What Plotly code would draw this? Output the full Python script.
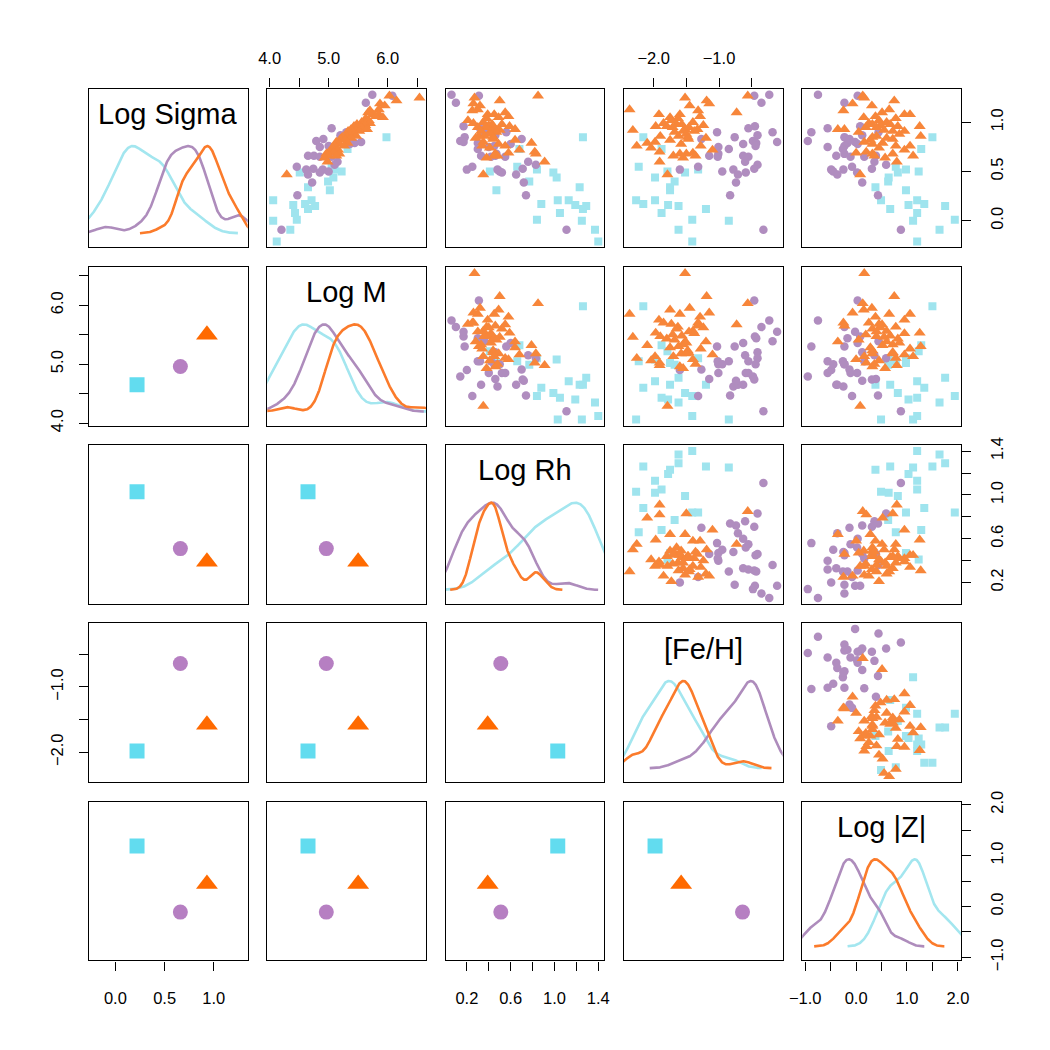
import numpy as np
import plotly.graph_objects as go

VAR_NAMES = ["Log Sigma", "Log M", "Log Rh", "[Fe/H]", "Log |Z|"]

# ---------------- data: group 1 (cyan squares) ----------------
cyan_sigma = [0.85, 0.73, 0.55, 0.52, 0.50, 0.49, 0.44, 0.40, 0.34, 0.31, 0.21,
              0.21, 0.17, 0.16, 0.15, 0.12, 0.08, 0.01, 0.00, -0.09, -0.21]
cyan_m = [5.98, 5.32, 5.05, 5.10, 5.22, 4.51, 5.08, 4.99, 4.65, 5.02, 4.06,
          4.71, 4.60, 4.40, 4.77, 4.65, 4.43, 4.46, 4.06, 4.35, 4.12]
cyan_rh = [1.26, 0.68, 0.66, 0.84, 0.41, 0.99, 1.02, 0.77, 1.23, 0.47, 1.03,
           1.13, 0.88, 1.19, 1.29, 1.26, 1.05, 0.84, 1.25, 1.37, 1.40]
cyan_feh = [-2.16, -1.88, -2.23, -1.32, -1.79, -1.52, -1.98, -1.68, -1.75, -1.75, -2.27,
            -1.98, -2.16, -1.78, -1.62, -1.20, -1.88, -1.41, -0.85, -1.62, -1.41]
cyan_z = [1.50, 1.28, 0.78, 0.98, 1.23, 0.82, 0.64, 0.63, 0.38, 0.98, 0.49,
          1.20, 1.34, 1.03, 1.75, 0.67, 1.20, 1.94, 1.12, 1.64, 1.20]

# ---------------- data: group 2 (purple circles) ----------------
purple_sigma = [1.28, 1.27, 1.20, 0.96, 0.94, 0.90, 0.90, 0.87, 0.85, 0.83,
                0.81, 0.80, 0.79, 0.78, 0.76, 0.75, 0.73, 0.68, 0.66, 0.66,
                0.65, 0.65, 0.60, 0.57, 0.55, 0.53, 0.52, 0.52, 0.50, 0.49,
                0.47, 0.39, 0.26, -0.09]
purple_m = [5.74, 6.08, 5.63, 5.47, 5.05, 5.39, 5.30, 5.20, 5.30, 4.91,
            4.79, 5.55, 5.44, 5.36, 5.00, 4.85, 5.05, 5.00, 4.75, 4.65,
            4.85, 5.05, 5.15, 5.10, 4.46, 4.74, 4.62, 4.90, 5.00, 4.85,
            4.65, 4.72, 4.47, 4.20]
purple_rh = [0.06, 0.31, 0.10, 0.17, 0.32, 0.36, 0.56, 0.46, 0.18, 0.70,
             0.14, 0.17, 0.30, 0.60, 0.45, 0.40, 0.30, 0.47, 0.46, 0.33,
             0.55, 0.42, 0.76, 0.83, 0.25, 0.71, 0.48, 0.20, 0.50, 0.52,
             0.65, 0.72, 0.74, 1.11]
purple_feh = [-0.23, -0.46, -0.35, -0.45, -0.55, -0.18, -1.03, -0.41, -0.76, -1.27,
              -0.48, -0.11, -0.43, -0.63, -0.44, -1.01, -0.85, -1.01, -1.15, -0.63,
              -0.55, -1.02, -0.60, -0.41, -1.32, -0.46, -0.78, -1.60, -0.95, -0.59,
              -0.71, -0.74, -0.83, -0.32]
purple_z = [-0.75, 0.03, -0.23, 0.08, -0.56, 0.44, -0.88, 0.12, -0.23, -0.13,
            -0.95, -0.02, -0.17, 0.03, -0.23, -0.56, -0.26, -0.23, 0.39, -0.39,
            -0.11, 0.16, 0.36, 0.59, -0.08, 0.31, -0.25, -0.49, -0.45, 0.02,
            -0.37, 0.12, 0.43, 0.88]

# ---------------- data: group 3 (orange triangles) ----------------
orange_sigma = [1.27, 1.25, 1.22, 1.19, 1.17, 1.13, 1.12, 1.10, 1.08, 1.08,
                1.06, 1.05, 1.04, 1.02, 1.00, 0.99, 0.98, 0.98, 0.97, 0.96,
                0.96, 0.95, 0.95, 0.93, 0.93, 0.92, 0.91, 0.91, 0.90, 0.88,
                0.86, 0.86, 0.85, 0.84, 0.83, 0.82, 0.80, 0.79, 0.78, 0.76,
                0.76, 0.74, 0.72, 0.70, 0.69, 0.68, 0.68, 0.66, 0.66, 0.64,
                0.60, 0.47]
orange_m = [6.03, 6.54, 6.15, 5.87, 5.95, 5.85, 5.70, 5.67, 5.75, 5.85,
            5.80, 5.92, 5.63, 5.68, 5.56, 5.70, 5.48, 5.60, 5.62, 5.53,
            5.43, 5.50, 5.55, 5.38, 5.65, 5.46, 5.33, 5.52, 5.41, 5.36,
            5.30, 5.47, 5.23, 5.38, 5.20, 5.28, 5.13, 5.32, 5.18, 5.10,
            5.26, 5.06, 5.16, 5.02, 5.08, 4.96, 5.18, 5.00, 5.13, 4.93,
            4.98, 4.29]
orange_rh = [0.85, 0.27, 0.50, 0.26, 0.32, 0.30, 0.25, 0.55, 0.39, 0.45,
             0.58, 0.49, 0.38, 0.21, 0.35, 0.26, 0.43, 0.52, 0.40, 0.59,
             0.44, 0.37, 0.30, 0.64, 0.46, 0.50, 0.33, 0.42, 0.47, 0.42,
             0.31, 0.36, 0.44, 0.28, 0.44, 0.64, 0.35, 0.79, 0.49, 0.55,
             0.34, 0.41, 0.68, 0.82, 0.58, 0.46, 0.83, 0.48, 0.45, 0.38,
             0.91, 0.35]
orange_feh = [-0.56, -1.52, -1.19, -1.15, -1.45, -2.37, -1.32, -0.73, -1.92, -1.60,
              -1.29, -1.75, -1.63, -1.73, -1.40, -1.85, -1.57, -1.65, -1.24, -1.97,
              -1.80, -1.71, -1.46, -1.52, -1.33, -2.32, -1.55, -1.38, -1.68, -1.50,
              -1.62, -1.90, -1.48, -1.20, -1.47, -1.75, -1.98, -2.10, -1.58, -2.26,
              -1.28, -2.04, -1.10, -1.91, -1.40, -1.60, -1.50, -1.36, -1.70, -1.55,
              -1.91, -1.79]
orange_z = [0.13, 0.16, 0.75, -0.07, 0.31, 0.65, -0.25, 0.51, 0.95, 1.06,
            0.38, 0.15, 0.78, 0.45, 0.60, 0.25, 0.67, 0.32, 0.48, 1.25,
            0.82, 0.19, 0.40, -0.36, -0.23, 0.55, 0.72, 0.95, 0.05, 0.85,
            1.27, 0.40, 0.32, 0.60, 0.72, 0.28, 0.16, 0.52, 0.32, 0.78,
            1.06, 0.45, 0.95, 0.20, 0.00, 0.32, 0.72, 0.36, 1.12, 0.57,
            0.80, 0.08]

# ---------------- group summary points (lower panels): cyan, purple, orange ----------------
mean_sigma = [0.22, 0.66, 0.93]
mean_m = [4.65, 4.96, 5.50]
mean_rh = [1.03, 0.51, 0.39]
mean_feh = [-1.98, -0.64, -1.58]
mean_z = [1.19, -0.11, 0.44]

# ---------------- axis ticks ----------------
sigma_ticks = [0.0, 0.5, 1.0]
sigma_labels = ["0.0", "0.5", "1.0"]
m_ticks = [4.0, 4.5, 5.0, 5.5, 6.0, 6.5]
m_labels = ["4.0", "", "5.0", "", "6.0", ""]
rh_ticks = [0.2, 0.4, 0.6, 0.8, 1.0, 1.2, 1.4]
rh_labels = ["0.2", "", "0.6", "", "1.0", "", "1.4"]
feh_ticks = [-2.0, -1.5, -1.0, -0.5]
feh_labels = ["\u22122.0", "", "\u22121.0", ""]
z_ticks = [-1.0, -0.5, 0.0, 0.5, 1.0, 1.5, 2.0]
z_labels = ["\u22121.0", "", "0.0", "", "1.0", "", "2.0"]

# ---------------- assemble ----------------
groups = [
    dict(vals=[cyan_sigma, cyan_m, cyan_rh, cyan_feh, cyan_z],
         symbol="square", pt="#9fe4ee", mean="#62dcef", line="#a3e6ef", size=8, msize=15),
    dict(vals=[purple_sigma, purple_m, purple_rh, purple_feh, purple_z],
         symbol="circle", pt="#b08dbf", mean="#b67fc2", line="#ae8cbc", size=8.5, msize=15),
    dict(vals=[orange_sigma, orange_m, orange_rh, orange_feh, orange_z],
         symbol="triangle-up", pt="#f7863a", mean="#ff6a00", line="#fb7b2b", size=10.5, msize=19),
]
means = [mean_sigma, mean_m, mean_rh, mean_feh, mean_z]
ranges = [[-0.268, 1.344], [3.96, 6.65], [0.006, 1.455], [-2.457, -0.026], [-1.06, 2.06]]
ticks = [(sigma_ticks, sigma_labels), (m_ticks, m_labels), (rh_ticks, rh_labels),
         (feh_ticks, feh_labels), (z_ticks, z_labels)]
DIAG_RANGE = [-0.16, 1.66]


def density(vals):
    x = np.asarray(vals, dtype=float)
    n = len(x)
    sd = x.std(ddof=1)
    q75, q25 = np.percentile(x, [75, 25])
    bw = 0.9 * min(sd, (q75 - q25) / 1.34) * n ** -0.2
    grid = np.linspace(x.min() - 3 * bw, x.max() + 3 * bw, 512)
    d = np.exp(-0.5 * ((grid[:, None] - x[None, :]) / bw) ** 2).sum(axis=1)
    return grid, d / d.max()


def to_diag(v, rng):
    lo, hi = rng
    return DIAG_RANGE[0] + (v - lo) / (hi - lo) * (DIAG_RANGE[1] - DIAG_RANGE[0])


FONT = "Liberation Sans, Arial, Helvetica, sans-serif"
L0, T0, STEP, SIZE = 89.0, 88.5, 178.3, 158.7
W = H = 1050

fig = go.Figure()
layout = dict(width=W, height=H, margin=dict(l=0, r=0, t=0, b=0, pad=0), autosize=False,
              paper_bgcolor="white", plot_bgcolor="white", showlegend=False,
              font=dict(family=FONT, color="black"))
annotations = []

for r in range(5):
    for c in range(5):
        k = r * 5 + c + 1
        sfx = "" if k == 1 else str(k)
        xa, ya = "x" + sfx, "y" + sfx
        x0 = (L0 + c * STEP) / W
        x1 = (L0 + c * STEP + SIZE) / W
        ytop = 1 - (T0 + r * STEP) / H
        ybot = 1 - (T0 + r * STEP + SIZE) / H
        xax = dict(domain=[x0, x1], anchor=ya, range=ranges[c], showline=True, mirror=True,
                   linecolor="black", linewidth=1.3, showgrid=False, zeroline=False,
                   ticks="", showticklabels=False, fixedrange=True, automargin=False)
        yax = dict(domain=[ybot, ytop], anchor=xa,
                   range=(DIAG_RANGE if r == c else ranges[r]), showline=True, mirror=True,
                   linecolor="black", linewidth=1.3, showgrid=False, zeroline=False,
                   ticks="", showticklabels=False, fixedrange=True, automargin=False)
        tickstyle = dict(ticks="outside", ticklen=9, tickwidth=1.2, tickcolor="black",
                         showticklabels=True,
                         tickfont=dict(size=16.5, family=FONT, color="black"))
        if r == 0 and c % 2 == 1:
            xax.update(tickstyle, side="top", tickvals=ticks[c][0], ticktext=ticks[c][1],
                       ticklabelstandoff=8)
        if r == 4 and c % 2 == 0:
            xax.update(tickstyle, side="bottom", tickvals=ticks[c][0], ticktext=ticks[c][1],
                       ticklabelstandoff=14)
        if c == 0 and r % 2 == 1:
            yax.update(tickstyle, side="left", tickvals=ticks[r][0], ticktext=ticks[r][1],
                       tickangle=-90, ticklabelstandoff=9)
        if c == 4 and r % 2 == 0:
            tv = ticks[r][0]
            if r == c:
                tv = [to_diag(v, ranges[r]) for v in tv]
            yax.update(tickstyle, side="right", tickvals=tv, ticktext=ticks[r][1],
                       tickangle=-90, ticklabelstandoff=12)
        layout["xaxis" + sfx] = xax
        layout["yaxis" + sfx] = yax

        if r < c:
            for g in groups:
                fig.add_trace(go.Scatter(
                    x=g["vals"][c], y=g["vals"][r], mode="markers", xaxis=xa, yaxis=ya,
                    marker=dict(symbol=g["symbol"], size=g["size"], color=g["pt"],
                                line=dict(width=0)), hoverinfo="skip"))
        elif r > c:
            for gi, g in enumerate(groups):
                fig.add_trace(go.Scatter(
                    x=[means[c][gi]], y=[means[r][gi]], mode="markers", xaxis=xa, yaxis=ya,
                    marker=dict(symbol=g["symbol"], size=g["msize"], color=g["mean"],
                                line=dict(width=0)), hoverinfo="skip"))
        else:
            for g in groups:
                gx, gy = density(g["vals"][c])
                fig.add_trace(go.Scatter(
                    x=gx, y=gy, mode="lines", xaxis=xa, yaxis=ya,
                    line=dict(color=g["line"], width=2.6), hoverinfo="skip"))
            annotations.append(dict(
                text=VAR_NAMES[c], x=0.5, y=0.84, xref=xa + " domain", yref=ya + " domain",
                xanchor="center", yanchor="middle", showarrow=False,
                font=dict(size=29, family=FONT, color="black")))

layout["annotations"] = annotations
fig.update_layout(**layout)
fig.write_html("out.html")
